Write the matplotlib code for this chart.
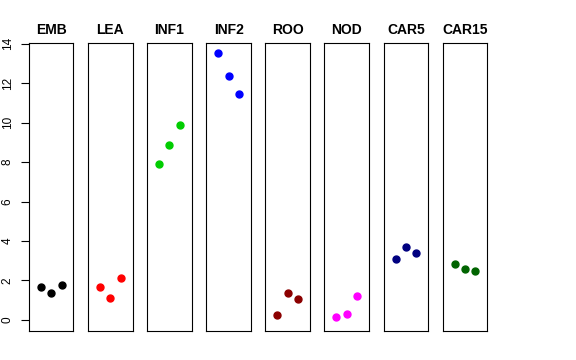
import matplotlib
matplotlib.use("Agg")
import matplotlib.pyplot as plt

plt.rcParams["font.family"] = ["Liberation Sans", "DejaVu Sans"]

# tissues and three replicate values each
tissues = ["EMB", "LEA", "INF1", "INF2", "ROO", "NOD", "CAR5", "CAR15"]
emb = [1.69, 1.35, 1.79]
lea = [1.69, 1.12, 2.12]
inf1 = [7.92, 8.88, 9.90]
inf2 = [13.52, 12.35, 11.46]
roo = [0.24, 1.34, 1.08]
nod = [0.17, 0.32, 1.20]
car5 = [3.11, 3.69, 3.38]
car15 = [2.81, 2.59, 2.50]
replicates = [1, 2, 3]
colors = ["black", "red", "#00CD00", "blue", "#8B0000", "magenta", "#000080", "#006400"]
yticks = [0, 2, 4, 6, 8, 10, 12, 14]

values = [emb, lea, inf1, inf2, roo, nod, car5, car15]

fig = plt.figure(figsize=(5.76, 3.6), dpi=100)
left, width, step = 0.0503, 0.0773, 0.1026
bottom, top = 0.0806, 0.8797

for i, (name, vals, col) in enumerate(zip(tissues, values, colors)):
    ax = fig.add_axes([left + i * step, bottom, width, top - bottom])
    ax.plot(replicates, vals, "o", color=col, markersize=5, linestyle="none")
    ax.set_xlim(-0.16, 4.16)
    ax.set_ylim(-0.56, 14.02)
    ax.set_xticks([])
    ax.set_title(name, fontsize=10, fontweight="bold", pad=6.5)
    for s in ax.spines.values():
        s.set_linewidth(0.8)
        s.set_color("black")
    if i == 0:
        ax.set_yticks(yticks)
        ax.set_yticklabels([str(t) for t in yticks], rotation=90, va="center", fontsize=8.5)
        ax.tick_params(axis="y", length=6, width=0.8, pad=5)
    else:
        ax.set_yticks([])

fig.savefig("out.png", dpi=100)
